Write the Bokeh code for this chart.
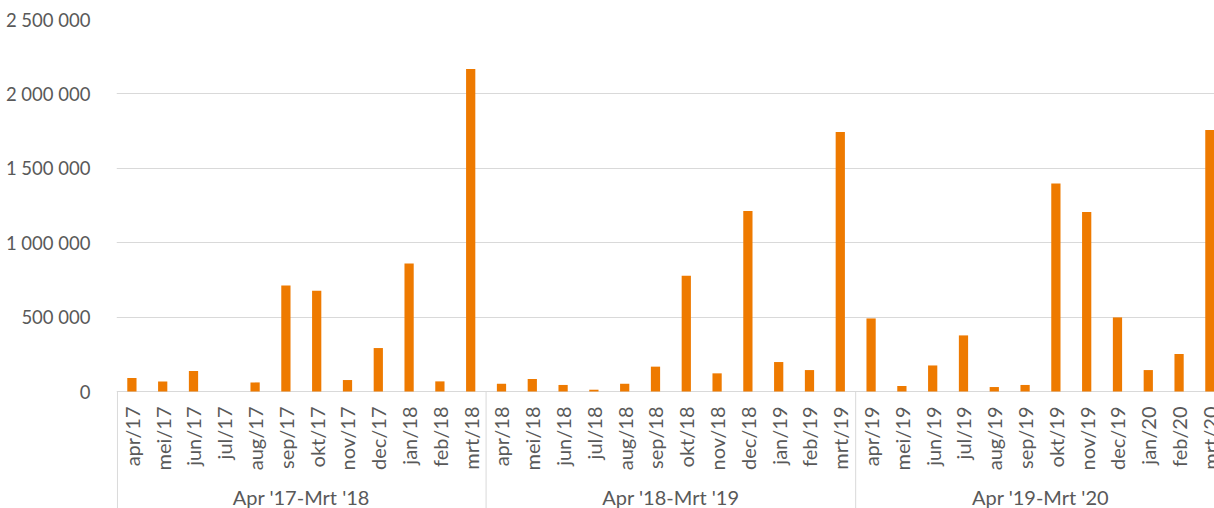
import math
from bokeh.plotting import figure
from bokeh.models import Range1d, FixedTicker, ColumnDataSource
from bokeh.core.properties import value
from bokeh.embed import file_html
from bokeh.resources import INLINE

months = ["apr/17", "mei/17", "jun/17", "jul/17", "aug/17", "sep/17", "okt/17", "nov/17", "dec/17", "jan/18", "feb/18", "mrt/18",
          "apr/18", "mei/18", "jun/18", "jul/18", "aug/18", "sep/18", "okt/18", "nov/18", "dec/18", "jan/19", "feb/19", "mrt/19",
          "apr/19", "mei/19", "jun/19", "jul/19", "aug/19", "sep/19", "okt/19", "nov/19", "dec/19", "jan/20", "feb/20", "mrt/20"]
groups = ["Apr '17-Mrt '18", "Apr '18-Mrt '19", "Apr '19-Mrt '20"]
values = [91000, 68000, 138000, 0, 61000, 713000, 677000, 77000, 292000, 861000, 68000, 2167000,
          52000, 84000, 44000, 12000, 52000, 167000, 778000, 122000, 1213000, 198000, 144000, 1744000,
          491000, 37000, 175000, 377000, 30000, 44000, 1398000, 1206000, 498000, 144000, 252000, 1757000]
y_ticks = [0, 500000, 1000000, 1500000, 2000000, 2500000]
y_tick_labels = ["0", "500 000", "1 000 000", "1 500 000", "2 000 000", "2 500 000"]

FONT = "Lato"
TXT = "#595959"
GRID = "#D9D9D9"

# layout (pixels)
W, H = 1214, 508
TOP, LEFT = 19, 116
VALUE_PX = 372            # pixels from 0 to the top tick
FRAME_H = H - TOP
y_max = y_ticks[-1]
y_min = y_max - FRAME_H * y_max / VALUE_PX

n = len(months)
per_group = n // len(groups)
xs = list(range(n))
src = ColumnDataSource(dict(x=xs, value=values, month=months, zero=[0] * n))

p = figure(width=W, height=H,
           x_range=Range1d(-0.5, 35.15), y_range=Range1d(y_min, y_max),
           output_backend="svg", toolbar_location=None, x_axis_location=None,
           min_border_left=LEFT, min_border_right=0, min_border_top=TOP, min_border_bottom=0)

p.vbar(x="x", top="value", width=0.3, source=src, fill_color="#EE7A00", line_color=None)

# y axis
ya = p.yaxis[0]
ya.ticker = FixedTicker(ticks=y_ticks)
ya.major_label_overrides = {t: l for t, l in zip(y_ticks, y_tick_labels)}
ya.axis_line_color = None
ya.major_tick_line_color = None
ya.minor_tick_line_color = None
ya.major_label_standoff = 20
ya.major_label_text_font = FONT
ya.major_label_text_font_size = "18.5px"
ya.major_label_text_color = TXT

p.ygrid.ticker = FixedTicker(ticks=y_ticks)
p.ygrid.grid_line_color = GRID
p.ygrid.grid_line_width = 1
p.xgrid.visible = False
p.outline_line_color = None

# category axis: separators between the groups
bounds = [i * per_group - 0.5 for i in range(len(groups))]
bounds[0] = -0.47
p.segment(x0=bounds, y0=[0] * len(bounds), x1=bounds, y1=[y_min] * len(bounds),
          line_color=GRID, line_width=1)

# month labels
p.text(x="x", y="zero", text="month", source=src, angle=math.pi / 2,
       y_offset=15, text_align="right", text_baseline="middle",
       text_font=value(FONT), text_font_size="20px", text_color=TXT)

# group labels
g_centers = [i * per_group + (per_group - 1) / 2 for i in range(len(groups))]
p.text(x=g_centers, y=[0] * len(groups), text=groups,
       y_offset=105, text_align="center", text_baseline="middle",
       text_font=value(FONT), text_font_size="20px", text_color=TXT)

open("out.html", "w").write(file_html(p, INLINE))
